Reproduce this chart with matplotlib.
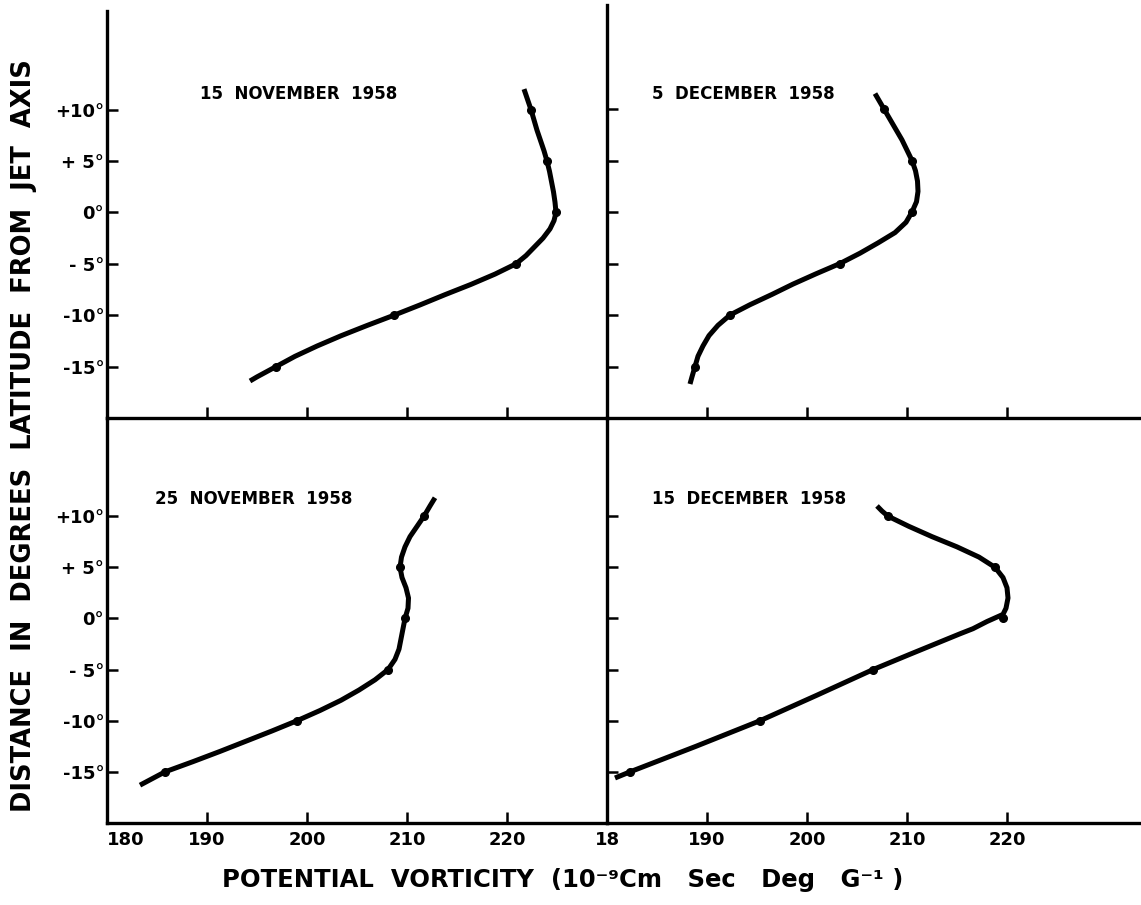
import matplotlib.pyplot as plt
import numpy as np

# latitude of the marked points (degrees from jet axis)
lat_pts = [10, 5, 0, -5, -10, -15]

nov15_lat = [12.0, 11, 10, 9, 8, 7, 6, 5, 4, 3, 2, 1, 0, -0.8, -1.6, -2.5, -3.3, -4.2, -5,
             -6, -7, -8, -9, -10, -11, -12, -13, -14, -15, -16, -16.4]
nov15_pv = [221.7, 222.05, 222.4, 222.7, 223.0, 223.35, 223.7, 224.0, 224.25, 224.45, 224.65, 224.8, 224.9,
            224.7, 224.3, 223.6, 222.8, 221.9, 220.9, 218.8, 216.4, 213.8, 211.3, 208.7, 206.0, 203.4,
            201.0, 198.8, 196.9, 195.0, 194.3]
nov15_pts = [222.4, 224.0, 224.9, 220.9, 208.7, 196.9]

# 5 December 1958
dec5_lat = [11.5, 10, 9, 8, 7, 6, 5, 4, 3, 2, 1, 0, -1, -2, -3, -4, -5, -6, -7, -8, -9, -10,
            -11, -12, -13, -14, -15, -16, -16.7]
dec5_pv = [206.8, 207.7, 208.3, 208.9, 209.5, 210.0, 210.5, 210.85, 211.05, 211.1, 210.95, 210.5,
           209.9, 208.8, 207.1, 205.3, 203.3, 200.9, 198.6, 196.5, 194.3, 192.3, 191.1, 190.2,
           189.6, 189.1, 188.8, 188.5, 188.3]
dec5_pts = [207.7, 210.5, 210.5, 203.3, 192.3, 188.8]

# 25 November 1958
nov25_lat = [11.8, 11, 10, 9, 8, 7, 6, 5, 4, 3, 2, 1, 0, -1, -2, -3, -4, -5, -6, -7, -8, -9, -10,
             -11, -12, -13, -14, -15, -16.3]
nov25_pv = [212.8, 212.3, 211.7, 211.0, 210.3, 209.8, 209.45, 209.3, 209.5, 209.9, 210.15, 210.1, 209.8,
            209.6, 209.4, 209.2, 208.8, 208.1, 206.8, 205.2, 203.4, 201.3, 199.0, 196.5, 193.9, 191.3,
            188.6, 185.8, 183.3]
nov25_pts = [211.7, 209.3, 209.8, 208.1, 199.0, 185.8]

# 15 December 1958
dec15_lat = [11.0, 10.5, 10, 9, 8, 7, 6, 5, 4, 3, 2, 1, 0.4, -0.3, -1, -1.5, -2.5, -3.5, -5,
             -7.5, -10, -12.5, -15, -15.6]
dec15_pv = [207.0, 207.5, 208.1, 210.2, 212.5, 215.0, 217.2, 218.8, 219.6, 220.0, 220.1, 219.9, 219.6,
            218.0, 216.6, 215.3, 212.8, 210.3, 206.6, 201.0, 195.3, 188.9, 182.3, 180.8]
dec15_pts = [208.1, 218.8, 219.6, 206.6, 195.3, 182.3]

ytick_vals = [10, 5, 0, -5, -10, -15]
ytick_labels = ['+10°', '+ 5°', '0°', '- 5°', '-10°', '-15°']
xtick_vals = [180, 190, 200, 210, 220]
xtick_left = ['180', '190', '200', '210', '220']
xtick_right = ['18', '190', '200', '210', '220']

W, H = 1141, 905
fig = plt.figure(figsize=(W / 100, H / 100), dpi=100)


def box(x0, y0, x1, y1):
    return [x0 / W, 1 - y1 / H, (x1 - x0) / W, (y1 - y0) / H]


panels = [
    (box(107, 11, 607, 418), (180, 230), (-20, 19.6), nov15_lat, nov15_pv, nov15_pts, '15  NOVEMBER  1958', 189.3, 11.5, 'tl'),
    (box(607, 5, 1141, 418), (180, 233.4), (-20, 20.1), dec5_lat, dec5_pv, dec5_pts, '5  DECEMBER  1958', 184.5, 11.5, 'tr'),
    (box(107, 418, 607, 823), (180, 230), (-20, 19.6), nov25_lat, nov25_pv, nov25_pts, '25  NOVEMBER  1958', 184.8, 11.7, 'bl'),
    (box(607, 418, 1141, 823), (180, 233.4), (-20, 19.6), dec15_lat, dec15_pv, dec15_pts, '15  DECEMBER  1958', 184.5, 11.7, 'br'),
]

for rect, xlim, ylim, lat, pv, pts, title, tx, ty, pos in panels:
    ax = fig.add_axes(rect)
    ax.patch.set_visible(False)
    ax.set_xlim(*xlim)
    ax.set_ylim(*ylim)
    ax.plot(pv, lat, color='black', lw=3.6, solid_capstyle='butt', solid_joinstyle='round')
    ax.plot(pts, lat_pts, 'o', color='black', ms=5.5)
    ax.text(tx, ty, title, fontsize=12, fontweight='bold', va='center', ha='left')

    for s in ['top', 'right']:
        ax.spines[s].set_visible(False)
    ax.spines['left'].set_linewidth(2.4)
    ax.spines['bottom'].set_linewidth(2.4)

    ax.set_xticks(xtick_vals)
    ax.set_yticks(ytick_vals)
    ax.tick_params(direction='in', length=8, width=1.8, labelsize=13)
    ax.tick_params(axis='x', pad=6)
    ax.tick_params(axis='y', pad=2)
    if pos in ('bl', 'br'):
        ax.set_xticklabels(xtick_left if pos == 'bl' else xtick_right, fontweight='bold')
        if pos == 'bl':
            ax.get_xticklabels()[0].set_ha('left')
    else:
        ax.set_xticklabels([])
    if pos in ('tl', 'bl'):
        ax.set_yticklabels(ytick_labels, fontweight='bold')
    else:
        ax.set_yticklabels([])

fig.text(24 / W, 1 - 436 / H, 'DISTANCE  IN  DEGREES  LATITUDE  FROM  JET  AXIS',
         rotation=90, ha='center', va='center', fontsize=18.5, fontweight='bold')
fig.text(222 / W, 1 - 880 / H, 'POTENTIAL  VORTICITY  (10⁻⁹Cm   Sec   Deg   G⁻¹ )',
         ha='left', va='center', fontsize=17.5, fontweight='bold')

fig.savefig('out.png', dpi=100)
